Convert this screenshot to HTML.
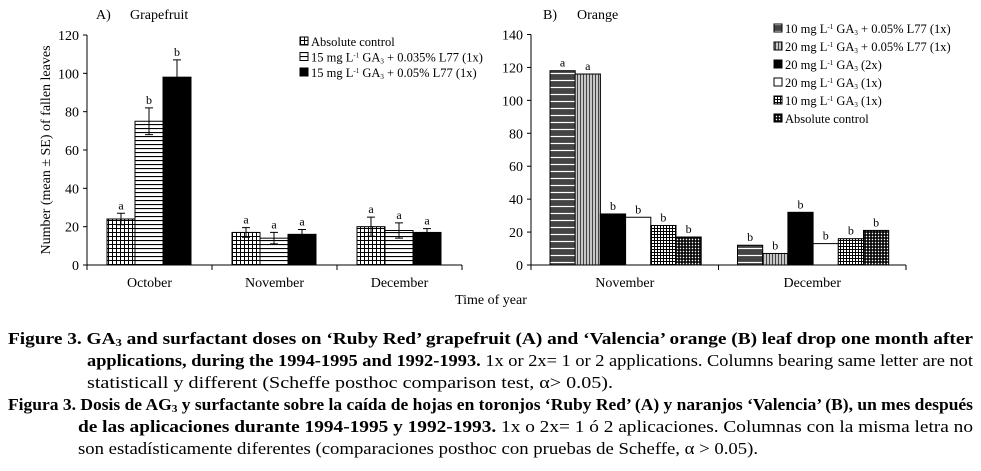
<!DOCTYPE html>
<html><head><meta charset="utf-8"><style>
html,body{margin:0;padding:0;background:#fff;}
svg, svg text{font-family:"Liberation Serif","DejaVu Serif",serif;}
</style></head><body>
<svg id="fig" width="981" height="466" viewBox="0 0 981 466" xmlns="http://www.w3.org/2000/svg" font-family="Liberation Serif, serif">
<defs>
<pattern id="pGrid" width="4" height="4" patternUnits="userSpaceOnUse"><rect width="4" height="4" fill="#fff"/><path d="M0 0.5H4M0.5 0V4" stroke="#000" stroke-width="1"/></pattern>
<pattern id="pHor" width="4" height="4" patternUnits="userSpaceOnUse"><rect width="4" height="4" fill="#fff"/><path d="M0 0.5H4" stroke="#000" stroke-width="1.2"/></pattern>
<pattern id="pHorB" width="6" height="7" patternUnits="userSpaceOnUse"><rect width="6" height="7" fill="#444"/><path d="M0 3.5H6" stroke="#fff" stroke-width="1.2"/></pattern>
<pattern id="pVer" width="3" height="4" patternUnits="userSpaceOnUse"><rect width="3" height="4" fill="#fff"/><path d="M1.5 0V4" stroke="#444" stroke-width="1.6"/></pattern>
<pattern id="pChk" width="3" height="3" patternUnits="userSpaceOnUse"><rect width="3" height="3" fill="#fff"/><path d="M0 0.5H3M0.5 0V3" stroke="#000" stroke-width="1"/></pattern>
<pattern id="pDense" width="3" height="3" patternUnits="userSpaceOnUse"><rect width="3" height="3" fill="#fff"/><path d="M0 1H3M1 0V3" stroke="#000" stroke-width="1.6"/></pattern>
</defs>
<g id="chartA"></g>
<g id="chartB"></g>
<text x="96" y="19" font-size="14">A)</text>
<text x="130" y="19" font-size="14">Grapefruit</text>
<text x="543" y="19" font-size="14">B)</text>
<text x="577" y="19" font-size="14">Orange</text>
<text transform="translate(50,150) rotate(-90)" text-anchor="middle" font-size="14">Number (mean ± SE) of fallen leaves</text>
<text x="491" y="304" text-anchor="middle" font-size="14">Time of year</text>
<g>
<text x="8" y="344" font-size="17" font-weight="bold" textLength="965" lengthAdjust="spacingAndGlyphs">Figure 3. GA<tspan font-size="11" dy="2">3</tspan><tspan dy="-2"> and surfactant doses on ‘Ruby Red’ grapefruit (A) and ‘Valencia’ orange (B) leaf drop one month after</tspan></text>
<text x="87" y="366" font-size="16.5" textLength="886" lengthAdjust="spacingAndGlyphs"><tspan font-weight="bold">applications, during the 1994-1995 and 1992-1993.</tspan> 1x or 2x= 1 or 2 applications. Columns bearing same letter are not</text>
<text x="87" y="388" font-size="16.5" textLength="526" lengthAdjust="spacingAndGlyphs">statisticall y different (Scheffe posthoc comparison test, α&gt; 0.05).</text>
<text x="8" y="410" font-size="17" font-weight="bold" textLength="965" lengthAdjust="spacingAndGlyphs">Figura 3. Dosis de AG<tspan font-size="11" dy="2">3</tspan><tspan dy="-2"> y surfactante sobre la caída de hojas en toronjos ‘Ruby Red’ (A) y naranjos ‘Valencia’ (B), un mes después</tspan></text>
<text x="78" y="432" font-size="16.5" textLength="895" lengthAdjust="spacingAndGlyphs"><tspan font-weight="bold">de las aplicaciones durante 1994-1995 y 1992-1993.</tspan> 1x o 2x= 1 ó 2 aplicaciones. Columnas con la misma letra no</text>
<text x="78" y="454" font-size="16.5" textLength="680" lengthAdjust="spacingAndGlyphs">son estadísticamente diferentes (comparaciones posthoc con pruebas de Scheffe, α &gt; 0.05).</text>
</g>
</svg>
<script>
// Chart A data
const catsA = ["October","November","December"];
const seriesA = ["Absolute control","15 mg L-1 GA3 + 0.035% L77 (1x)","15 mg L-1 GA3 + 0.05% L77 (1x)"];
const valsA0 = [24,17,20];
const valsA1 = [75,14,18];
const valsA2 = [98,16,17];
const errA0 = [3,2.5,5];
const errA1 = [7,3,4];
const errA2 = [9,2.5,2];
const lettersA0 = ["a","a","a"];
const lettersA1 = ["b","a","a"];
const lettersA2 = ["b","a","a"];
const ticksA = [0,20,40,60,80,100,120];
// Chart B data
const catsB = ["November","December"];
const seriesB = ["10 mg L-1 GA3 + 0.05% L77 (1x)","20 mg L-1 GA3 + 0.05% L77 (1x)","20 mg L-1 GA3 (2x)","20 mg L-1 GA3 (1x)","10 mg L-1 GA3 (1x)","Absolute control"];
const valsB0 = [118,12];
const valsB1 = [116,7];
const valsB2 = [31,32];
const valsB3 = [29,13];
const valsB4 = [24,16];
const valsB5 = [17,21];
const lettersB = [["a","b"],["a","b"],["b","b"],["b","b"],["b","b"],["b","b"]];
const ticksB = [0,20,40,60,80,100,120,140];

const NS="http://www.w3.org/2000/svg";
function mk(parent,tag,attrs,txt){const e=document.createElementNS(NS,tag);for(const k in attrs)e.setAttribute(k,attrs[k]);if(txt!==undefined)e.textContent=txt;parent.appendChild(e);return e;}

function drawChart(g,opt){
  const {x0,x1,y0,yTop,max,ticks,cats,vals,errs,letters,fills,barW,groupOff,series,legX,legY,legStep,nameP}=opt;
  const ys=v=>y0-(v/max)*(y0-yTop);
  const cw=(x1-x0)/cats.length;
  const ax=mk(g,'path',{d:`M${x0} ${yTop}V${y0}H${x1}`,stroke:'#000',fill:'none','stroke-width':1});
  
  
  ticks.forEach(t=>{
    const y=ys(t);
    mk(g,'line',{x1:x0-4,x2:x0,y1:y,y2:y,stroke:'#000'});
    const tl=mk(g,'text',{x:x0-8,y:y+5,'text-anchor':'end','font-size':14},String(t));
    
    
  });
  for(let i=0;i<=cats.length;i++){mk(g,'line',{x1:x0+i*cw,x2:x0+i*cw,y1:y0,y2:y0+5,stroke:'#000'});}
  cats.forEach((c,i)=>{
    const cl=mk(g,'text',{x:x0+cw*(i+0.5),y:y0+22,'text-anchor':'middle','font-size':14},c);
    
    
    vals.forEach((arr,s)=>{
      const bx=x0+cw*i+groupOff+s*barW, v=arr[i], by=ys(v);
      const r=mk(g,'rect',{x:bx,y:by,width:barW,height:y0-by,fill:fills[s],stroke:'#000','stroke-width':1});
      
      
      let topY=by;
      if(errs){
        const e=errs[s][i], cx=bx+barW/2, yt=ys(v+e), yb=ys(v-e);
        mk(g,'path',{d:`M${cx} ${yb}V${yt}M${cx-4} ${yt}H${cx+4}M${cx-4} ${yb}H${cx+4}`,stroke:'#000',fill:'none'});
        topY=yt;
      }
      const lt=mk(g,'text',{x:bx+barW/2,y:topY-4,'text-anchor':'middle','font-size':12},letters[s][i]);
      
      
    });
  });
  series.forEach((s,k)=>{
    const y=legY+k*legStep;
    const lg=mk(g,'g',{});
    
    
    mk(lg,'rect',{x:legX,y:y-9,width:8,height:8,fill:fills[k],stroke:'#000'});
    const t=mk(lg,'text',{x:legX+11,y:y,'font-size':12.5});
    const m=s.match(/^(.*?)L-1 GA3(.*)$/);
    if(m){
      mk(t,'tspan',{},m[1]+'L');
      mk(t,'tspan',{'font-size':7,dy:-4},'-1');
      mk(t,'tspan',{dy:4},' GA');
      mk(t,'tspan',{'font-size':7,dy:2},'3');
      mk(t,'tspan',{dy:-2},m[2]);
    } else t.textContent=s;
  });
}
drawChart(document.getElementById('chartA'),{x0:87,x1:462,y0:265,yTop:35,max:120,ticks:ticksA,cats:catsA,
  vals:[valsA0,valsA1,valsA2],errs:[errA0,errA1,errA2],letters:[lettersA0,lettersA1,lettersA2],
  fills:['url(#pGrid)','url(#pHor)','#000'],barW:28,groupOff:20,series:seriesA,legX:300,legY:46,legStep:15.5,nameP:'grapefruit'});
drawChart(document.getElementById('chartB'),{x0:531,x1:906,y0:265,yTop:34.5,max:140,ticks:ticksB,cats:catsB,
  vals:[valsB0,valsB1,valsB2,valsB3,valsB4,valsB5],errs:null,letters:lettersB,
  fills:['url(#pHorB)','url(#pVer)','#000','#fff','url(#pChk)','url(#pDense)'],barW:25.2,groupOff:19,series:seriesB,legX:774,legY:33,legStep:18,nameP:'orange'});
</script>
</body></html>
